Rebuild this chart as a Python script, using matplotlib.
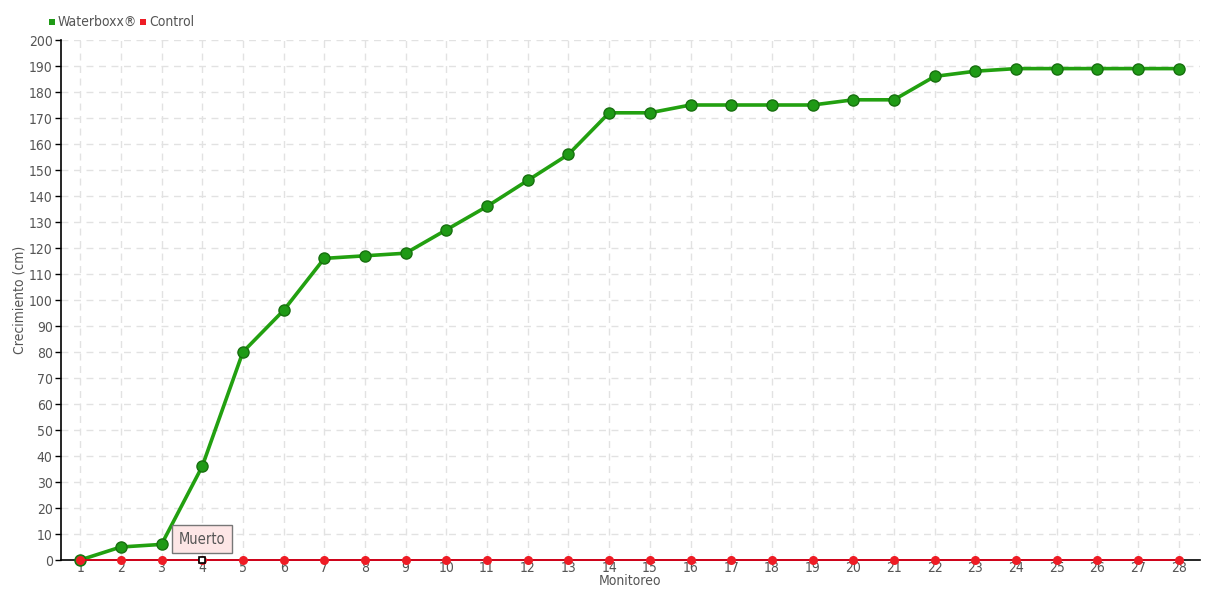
import matplotlib
matplotlib.use("Agg")
import matplotlib.pyplot as plt
from matplotlib.patches import Rectangle

monitoreo = list(range(1, 29))
waterboxx = [0, 5, 6, 36, 80, 96, 116, 117, 118, 127, 136, 146, 156, 172, 172,
             175, 175, 175, 175, 177, 177, 186, 188, 189, 189, 189, 189, 189]
control = [0] * 28
yticks = list(range(0, 201, 10))
dead_index = 3  # monitoreo 4
dead_label = "Muerto"

plt.rcParams['font.family'] = ['DejaVu Sans']
plt.rcParams['font.stretch'] = 'condensed'
text_color = "#555555"
fs = 10

fig = plt.figure(figsize=(12.2, 6), dpi=100)
ax = fig.add_axes([61/1220, 40/600, (1200-61)/1220, 520/600])

ax.set_xlim(0.53, 28.52)
ax.set_ylim(0, 200)

for x in monitoreo:
    ax.axvline(x, color="#e2e2e2", lw=1, ls=(0, (5, 4)), zorder=0)
for y in yticks[1:]:
    ax.axhline(y, color="#e2e2e2", lw=1, ls=(0, (5, 4)), zorder=0)

ax.plot(monitoreo, waterboxx, color="#22a010", lw=2.6, marker="o", ms=8,
        mfc="#1f9a16", mec="#17700f", mew=1, zorder=3, label="Waterboxx®",
        clip_on=False)
ax.plot(monitoreo, control, color="#e0001b", lw=1.3, marker="o", ms=6.5,
        mfc="#ee1c25", mec="#ee1c25", mew=0, zorder=4, label="Control",
        clip_on=False)

# dead marker
ax.plot([monitoreo[dead_index]], [control[dead_index]], marker="s", ms=4.5,
        mfc="white", mec="black", mew=1.2, zorder=6, clip_on=False)
ax.annotate(dead_label, xy=(monitoreo[dead_index], control[dead_index]),
            xytext=(0, 15), textcoords="offset points", ha="center", va="center",
            fontsize=fs + 0.5, color=text_color, zorder=7, annotation_clip=False,
            bbox=dict(boxstyle="square,pad=0.45", fc="#fde6e6", ec="#777777", lw=1))

for s in ["top", "right"]:
    ax.spines[s].set_visible(False)
ax.spines["left"].set_color("black")
ax.spines["bottom"].set_color("black")
ax.spines["left"].set_linewidth(1.2)
ax.spines["bottom"].set_linewidth(1.2)
ax.spines["bottom"].set_zorder(2)

ax.set_yticks(yticks)
ax.set_yticklabels([str(v) for v in yticks])
ax.set_xticks(monitoreo)
ax.set_xticklabels([str(v) for v in monitoreo])
ax.tick_params(axis="y", length=4, width=1, color="black", labelsize=fs,
               labelcolor=text_color, pad=2)
ax.tick_params(axis="x", length=0, labelsize=fs, labelcolor=text_color, pad=1)

ax.set_xlabel("Monitoreo", fontsize=fs, color=text_color, labelpad=-1)
ax.set_ylabel("Crecimiento (cm)", fontsize=fs, color=text_color, labelpad=2)

# legend
fig.patches.append(Rectangle((49/1220, 1-25/600), 6/1220, 6/600, transform=fig.transFigure,
                             fc="#1f9a16", ec="none"))
fig.text(58/1220, 1-22/600, "Waterboxx®", fontsize=fs, color=text_color, va="center")
fig.patches.append(Rectangle((140/1220, 1-25/600), 6/1220, 6/600, transform=fig.transFigure,
                             fc="#ee1c25", ec="none"))
fig.text(149/1220, 1-22/600, "Control", fontsize=fs, color=text_color, va="center")

fig.savefig("out.png", dpi=100)
